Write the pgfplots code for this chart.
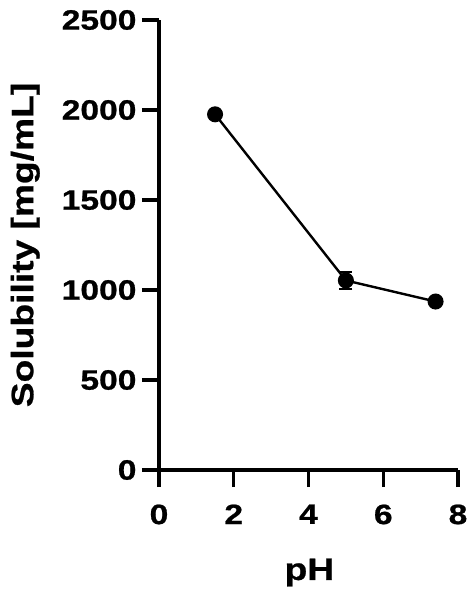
\documentclass[border=0pt]{standalone}
\usepackage{fontspec}
\setmainfont{Liberation Sans}[FakeStretch=1.2, BoldFeatures={FakeBold=0.8}]
\usepackage{pgfplots}
\pgfplotsset{compat=1.18}
\begin{document}
\begin{tikzpicture}
\path[use as bounding box] (-159pt,-124pt) rectangle (315pt,470pt);
\begin{axis}[
  at={(0,0)}, anchor=south west,
  scale only axis, width=299pt, height=450pt,
  xmin=0, xmax=8, ymin=0, ymax=2500,
  axis x line*=bottom, axis y line*=left,
  axis line style={line width=3.5pt},
  xtick={0,2,4,6,8}, ytick={0,500,1000,1500,2000,2500},
  tick align=outside, major tick length=17pt,
  tick style={line width=3.5pt, black},
  /pgf/number format/assume math mode=true,
  /pgf/number format/set thousands separator={},
  tick label style={font=\fontsize{28}{32}\selectfont\bfseries},
  xticklabel style={yshift=-14pt},
  yticklabel style={xshift=-2pt},
  xlabel={pH}, ylabel={Solubility [mg/mL]},
  label style={font=\fontsize{31}{34}\selectfont\bfseries, inner sep=0pt},
  xlabel style={at={(axis description cs:0.503,-0.2444)}, anchor=base},
  ylabel style={at={(axis description cs:-0.398,0.5)}, rotate=0, anchor=south},
  clip=false,
]
\addplot[black, line width=2.4pt, mark=*, mark size=6.8pt,
  error bars/.cd, y dir=both, y explicit,
  error bar style={line width=2.4pt},
  error mark options={line width=2.4pt, mark size=6.5pt, rotate=90}]
  coordinates {
  (1.5,1976) +- (0,0)
  (5.0,1053) +- (0,46)
  (7.4,936) +- (0,0)
};
\end{axis}
\end{tikzpicture}
\end{document}
